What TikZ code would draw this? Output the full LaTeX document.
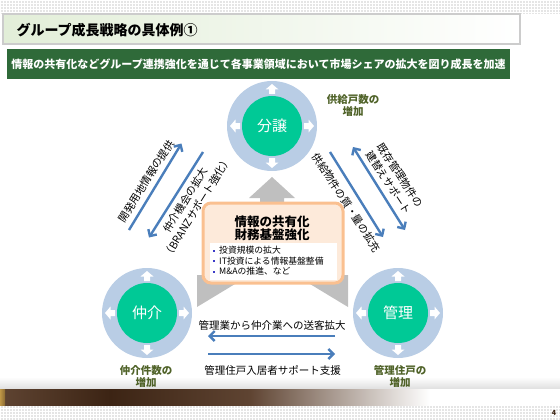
\documentclass[tikz,border=0pt]{standalone}
\usepackage{fontspec}
\setmainfont{Noto Sans CJK JP}
\usetikzlibrary{arrows.meta,positioning,shapes}

\definecolor{ringblue}{RGB}{185,205,229}
\definecolor{coregreen}{RGB}{0,201,150}
\definecolor{bannergreen}{RGB}{47,106,57}
\definecolor{arrowblue}{RGB}{74,126,187}
\definecolor{olivetext}{RGB}{79,98,40}
\definecolor{greyarrow}{RGB}{191,191,191}
\definecolor{boxorange}{RGB}{250,192,144}
\definecolor{boxpeach}{RGB}{253,234,218}
\definecolor{titlegreen}{RGB}{226,238,216}
\definecolor{barbrown}{RGB}{60,36,20}
\definecolor{barbrownlt}{RGB}{95,68,50}
\definecolor{bargold}{RGB}{190,150,70}
\definecolor{bulletblue}{RGB}{60,60,200}

\tikzset{
  ring/.style={circle, fill=ringblue, minimum size=90pt, inner sep=0pt},
  core/.style={circle, fill=coregreen, minimum size=60pt, inner sep=0pt, text=white, font=\fontsize{15}{18}\selectfont},
  flow/.style={draw=arrowblue, line width=2.4pt, -{Straight Barb[length=5pt,width=10pt]}},
  flowtext/.style={font=\fontsize{10.5}{14}\selectfont, align=center, inner sep=0pt},
  growth/.style={text=olivetext, font=\bfseries\fontsize{10.5}{12}\selectfont, align=center, inner sep=0pt},
  checker/.style={white, line width=0.6pt, step=3pt}
}

\begin{document}
\begin{tikzpicture}[x=1pt,y=-1pt]
    \useasboundingbox (0,0) rectangle (560,420);

    % Checker strips, top and bottom
    \fill[gray!20] (0,0) rectangle (560,14);
    \draw[checker] (0,0) grid (560,14);
    \fill[gray!20] (0,405) rectangle (560,420);
    \draw[checker] (0,405) grid (560,420);

    % Footer bar
    \shade[top color=white, bottom color=gray!25] (0,377) rectangle (560,389);
    \shade[left color=barbrownlt, right color=barbrown] (0,389) rectangle (110,405);
    \shade[left color=barbrown, right color=barbrownlt] (110,389) rectangle (250,405);
    \shade[left color=barbrownlt, right color=white] (250,389) rectangle (430,405);
    \fill[white] (430,389) rectangle (560,405);
    \shade[left color=bargold, right color=bargold!60!barbrown] (0,389) rectangle (5,405);
    \node[font=\bfseries\fontsize{7}{8}\selectfont, text=barbrown] (pagenum) at (554,413) {4};

    % Title bar and banner
    \shade[left color=titlegreen, right color=white, draw=gray!40, line width=1.5pt] (3,14) rectangle (520,44);
    \node[anchor=west, font=\bfseries\fontsize{14}{16}\selectfont] (title) at (13,30) {グループ成長戦略の具体例①};
    \node[fill=bannergreen, minimum width=503pt, minimum height=30pt, text=white, font=\bfseries\fontsize{11}{13}\selectfont] (banner) at (258.5,64) {情報の共有化などグループ連携強化を通じて各事業領域において市場シェアの拡大を図り成長を加速};

    % Grey arrows behind the box
    \fill[greyarrow] (260,205) -- (260,198) -- (249,198) -- (272,177) -- (295,198) -- (284,198) -- (284,205) -- cycle;
    \fill[greyarrow] (197,275) -- (197,307) -- (240,281) -- (240,275) -- cycle;
    \fill[greyarrow] (348,275) -- (348,307) -- (305,281) -- (305,275) -- cycle;

    % Central box
    \node[draw=boxorange, line width=3pt, fill=boxpeach, rounded corners=8pt, minimum width=140pt, minimum height=80pt] (infobox) at (273,243) {};
    \fill[white] (210,243) rectangle (337,280);
    \node[font=\bfseries\fontsize{12.5}{13.5}\selectfont, align=center] (infotitle) at (272,228.5) {情報の共有化\\財務基盤強化};
    \node[anchor=north west, font=\fontsize{8.8}{10.5}\selectfont, align=left, inner sep=0pt] (infolist) at (213,246) {%
        \textcolor{bulletblue}{\rule[2pt]{2pt}{2pt}}\hspace{4pt}投資規模の拡大\\
        \textcolor{bulletblue}{\rule[2pt]{2pt}{2pt}}\hspace{4pt}IT投資による情報基盤整備\\
        \textcolor{bulletblue}{\rule[2pt]{2pt}{2pt}}\hspace{4pt}M\&Aの推進、など};

    % Business circles
    \node[ring] (bunjoring) at (272,126) {};
    \node[core] (bunjo) at (bunjoring) {分譲};
    \node[ring] (chukairing) at (147,313) {};
    \node[core] (chukai) at (chukairing) {仲介};
    \node[ring] (kanriring) at (398,313) {};
    \node[core] (kanri) at (kanriring) {管理};
    \foreach \nm in {bunjo,chukai,kanri}
        \foreach \a in {0,90,180,270}
            \fill[white, shift={(\nm)}, rotate=\a] (32,-3) -- (36.5,-3) -- (36.5,-6.5) -- (42,0) -- (36.5,6.5) -- (36.5,3) -- (32,3) -- cycle;

    % Growth labels
    \node[growth] (bunjolbl) at (353,106) {供給戸数の\\増加};
    \node[growth] (chukailbl) at (146,376) {仲介件数の\\増加};
    \node[growth] (kanrilbl) at (400,376) {管理住戸の\\増加};

    % Blue arrows between businesses
    \coordinate (devA) at (129,230);
    \coordinate (devB) at (181.5,143.5);
    \coordinate (oppA) at (203,152);
    \coordinate (oppB) at (149,237.5);
    \coordinate (supA) at (330,152);
    \coordinate (supB) at (383,237);
    \coordinate (rebA) at (353,147);
    \coordinate (rebB) at (405,230);
    \coordinate (refA) at (335,336);
    \coordinate (refB) at (208,336);
    \coordinate (resA) at (208,354);
    \coordinate (resB) at (335,354);
    \draw[flow] (devA) -- (devB);
    \draw[flow] (oppA) -- (oppB);
    \draw[flow] (supA) -- (supB);
    \draw[flow, {Straight Barb[length=5pt,width=10pt]}-{Straight Barb[length=5pt,width=10pt]}] (rebA) -- (rebB);
    \draw[flow] (refA) -- (refB);
    \draw[flow] (resA) -- (resB);

    % Arrow texts
    \node[flowtext, rotate=58] (devtxt) at (146.2,181.2) {開発用地情報の提供};
    \node[flowtext, rotate=58] (opptxt) at (191.5,203.7) {仲介機会の拡大\\（BRANZサポート強化）};
    \node[flowtext, rotate=-57] (suptxt) at (346.5,202.5) {供給物件の質・量の拡充};
    \node[flowtext, rotate=-57] (rebtxt) at (394.5,179) {既存管理物件の\\建替えサポート};
    \node[flowtext] (reftxt) at (272,325) {管理業から仲介業への送客拡大};
    \node[flowtext] (restxt) at (272.5,370) {管理住戸入居者サポート支援};
\end{tikzpicture}
\end{document}
